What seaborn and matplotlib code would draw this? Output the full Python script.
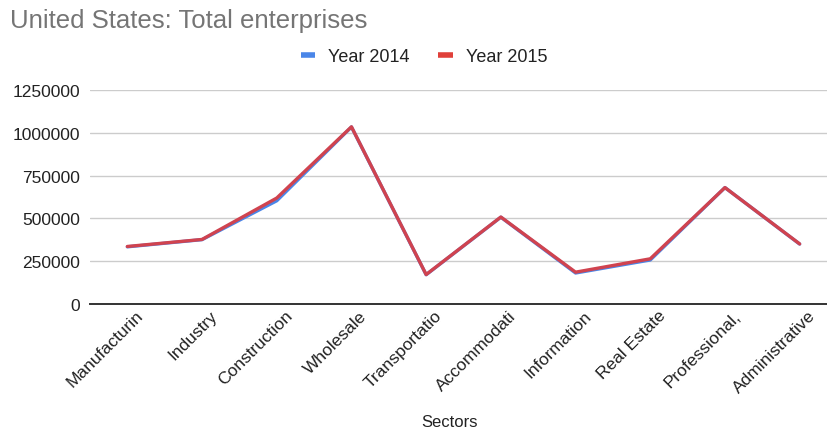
import matplotlib
matplotlib.use("Agg")
import matplotlib.pyplot as plt
import matplotlib.transforms as mtransforms
from matplotlib.lines import Line2D
import pandas as pd
import seaborn as sns

# Sector labels as they appear (truncated) on the axis
sectors = ["Manufacturin", "Industry", "Construction", "Wholesale", "Transportatio",
           "Accommodati", "Information", "Real Estate", "Professional,", "Administrative"]

# Total enterprises per sector
year_2014 = [334000, 376000, 603000, 1034000, 171000, 507000, 181000, 257000, 680000, 350000]
year_2015 = [336000, 377000, 619000, 1035000, 172000, 508000, 186000, 264000, 680000, 351000]

series_names = ["Year 2014", "Year 2015"]
series_colors = ["#4a86e8", "#d0434f"]
legend_colors = ["#4a86e8", "#e0403a"]
y_ticks = [0, 250000, 500000, 750000, 1000000, 1250000]

df = pd.DataFrame({"Sector": sectors * 2,
                   "Enterprises": year_2014 + year_2015,
                   "Series": [series_names[0]] * len(sectors) + [series_names[1]] * len(sectors)})

sns.set_theme(style="white")
plt.rcParams["font.family"] = ["Liberation Sans", "DejaVu Sans"]

fig = plt.figure(figsize=(8.28, 4.31), dpi=100)
W, H = 828, 431
ax = fig.add_axes([90 / W, (H - 305) / H, 747 / W, 214 / H])

sns.lineplot(data=df, x="Sector", y="Enterprises", hue="Series",
             palette=dict(zip(series_names, series_colors)),
             linewidth=2.4, sort=False, legend=False, ax=ax)

ax.set_xlim(-0.5, len(sectors) - 0.5)
ax.set_ylim(0, 1250000)
ax.set_yticks(y_ticks)
ax.set_yticklabels([str(v) for v in y_ticks], fontsize=12.5, color="#222222")
ax.yaxis.grid(True, color="#cccccc", linewidth=1)
ax.xaxis.grid(False)
ax.tick_params(axis="y", length=0, pad=7)
ax.tick_params(axis="x", length=0, pad=2)
for side in ["top", "right", "left"]:
    ax.spines[side].set_visible(False)
ax.spines["bottom"].set_color("#333333")
ax.spines["bottom"].set_linewidth(1.4)
ax.set_axisbelow(True)

ax.set_xticks(range(len(sectors)))
ax.set_xticklabels(sectors, fontsize=12.5, color="#222222")
shift = mtransforms.ScaledTranslation(13 / 100, -6 / 100, fig.dpi_scale_trans)
for lbl in ax.get_xticklabels():
    lbl.set_rotation(45)
    lbl.set_rotation_mode("anchor")
    lbl.set_ha("right")
    lbl.set_va("center")
    lbl.set_transform(lbl.get_transform() + shift)

ax.set_ylabel("")
ax.set_xlabel("Sectors", fontsize=12, color="#222222")
ax.xaxis.set_label_coords((450 - 90) / 747, -(415 - 305) / 214)

fig.text(10 / W, 1 - 28 / H, "United States: Total enterprises",
         fontsize=18.5, color="#757575", ha="left", va="baseline")

handles = [Line2D([0], [0], color=c, linewidth=4, solid_capstyle="butt") for c in legend_colors]
fig.legend(handles, series_names, loc="center", bbox_to_anchor=(424 / W, 1 - 58 / H),
           ncol=2, frameon=False, fontsize=13, handlelength=0.8, handletextpad=0.7,
           columnspacing=1.6, labelcolor="#222222")

fig.savefig("out.png", dpi=100, facecolor="white")
